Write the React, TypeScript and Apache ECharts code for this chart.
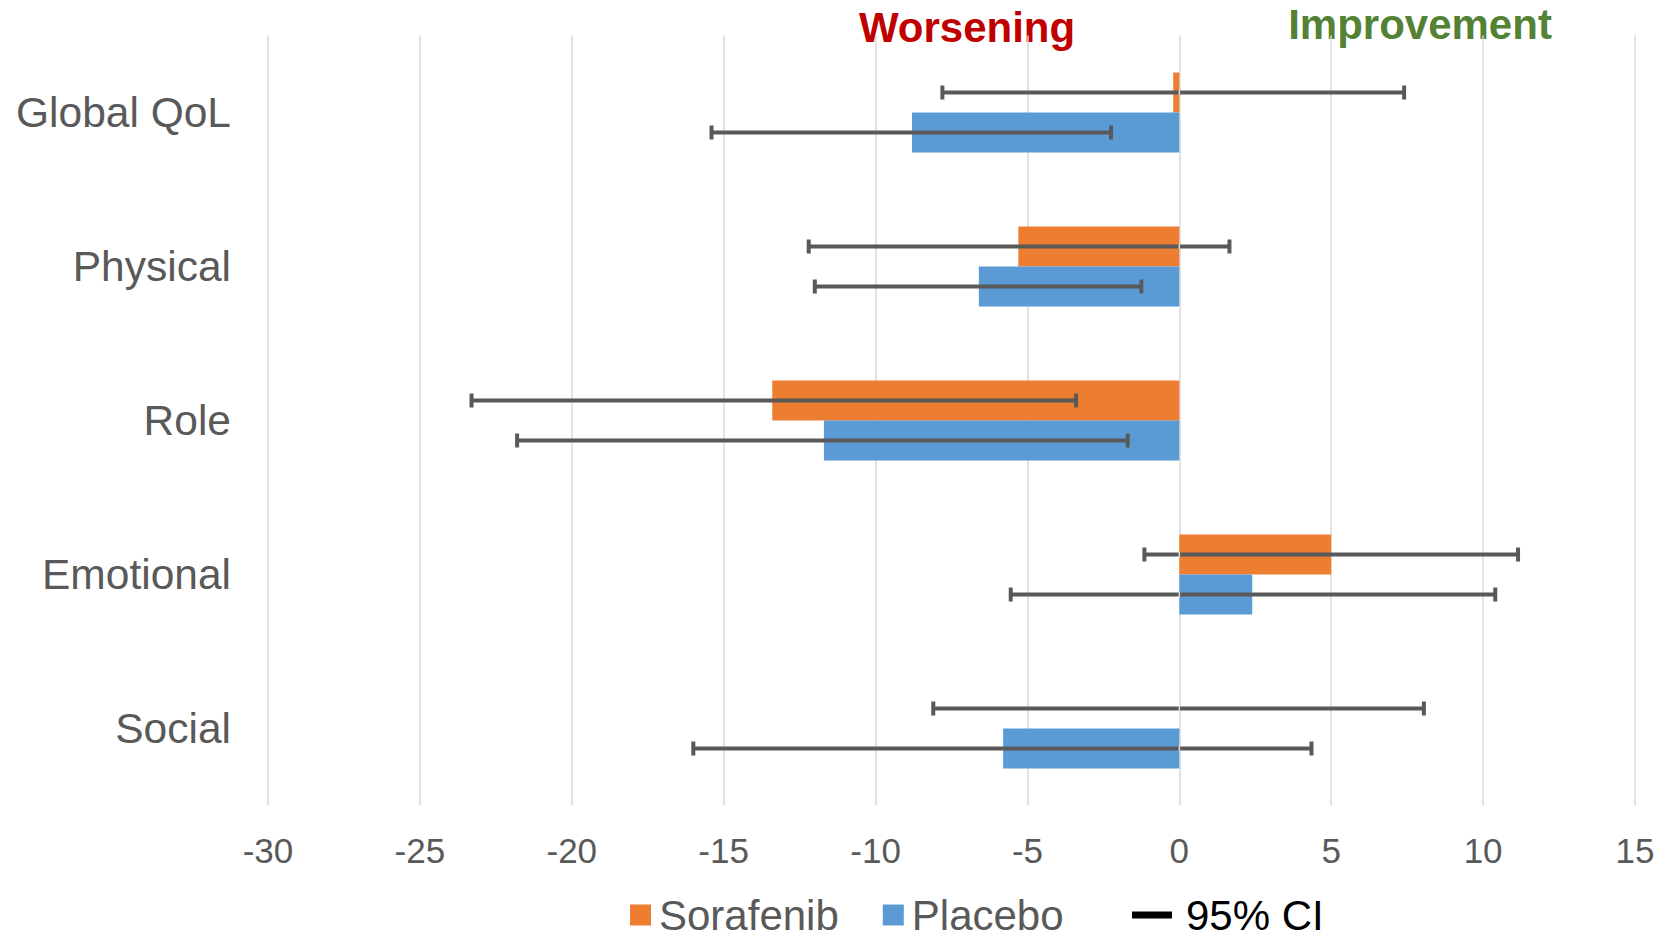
import React, { useEffect, useRef } from "react";
import * as echarts from "echarts";

const categories = ["Global QoL", "Physical", "Role", "Emotional", "Social"];
const sorafenib = [-0.2, -5.3, -13.4, 5.0, 0];
const placebo = [-8.8, -6.6, -11.7, 2.4, -5.8];
const sorafenibLow = [-7.8, -12.2, -23.3, -1.15, -8.1];
const sorafenibHigh = [7.4, 1.65, -3.4, 11.15, 8.05];
const placeboLow = [-15.4, -12.0, -21.8, -5.55, -16.0];
const placeboHigh = [-2.25, -1.25, -1.7, 10.4, 4.35];
const xMin = -30;
const xMax = 15;
const xStep = 5;

const FONT = "'Liberation Sans', Arial, sans-serif";
const GRAY = "#595959";
const GRID = "#D9D9D9";
const BAR_W = 40;

function errorSeries(name: string, low: number[], high: number[], offset: number) {
  return {
    name,
    type: "custom",
    z: 5,
    itemStyle: { color: GRAY },
    encode: { x: [0, 1], y: 2 },
    data: categories.map((_, i) => [low[i], high[i], i]),
    renderItem: (_params: any, api: any) => {
      const cat = api.value(2);
      const lo = api.value(0);
      const hi = api.value(1);
      const a = api.coord([lo, cat]);
      const b = api.coord([hi, cat]);
      const z0 = api.coord([0, cat]);
      const y = a[1] + offset;
      const st = { stroke: GRAY, lineWidth: 4 };
      const children: any[] = [
        { type: "line", shape: { x1: a[0], y1: y, x2: b[0], y2: y }, style: st },
        { type: "line", shape: { x1: a[0], y1: y - 7, x2: a[0], y2: y + 7 }, style: st },
        { type: "line", shape: { x1: b[0], y1: y - 7, x2: b[0], y2: y + 7 }, style: st },
      ];
      if (lo < 0 && hi > 0) {
        children.push({
          type: "line",
          shape: { x1: z0[0], y1: y - 2.5, x2: z0[0], y2: y + 2.5 },
          style: { stroke: GRID, lineWidth: 1.5 },
        });
      }
      return { type: "group", children };
    },
  };
}

export default function App() {
  const ref = useRef<HTMLDivElement>(null);
  useEffect(() => {
    if (!ref.current) return;
    const chart = echarts.init(ref.current, undefined, { renderer: "svg" });
    chart.setOption({
      animation: false,
      textStyle: { fontFamily: FONT },
      grid: { left: 268, right: 30, top: 35.5, height: 770 },
      xAxis: {
        type: "value",
        min: xMin,
        max: xMax,
        interval: xStep,
        axisLine: { show: false },
        axisTick: { show: false },
        splitLine: { show: true, lineStyle: { color: GRID, width: 1.5 } },
        axisLabel: { color: GRAY, fontSize: 35, lineHeight: 35, margin: 27, fontFamily: FONT },
      },
      yAxis: {
        type: "category",
        data: categories,
        inverse: true,
        axisLine: { show: false },
        axisTick: { show: false },
        splitLine: { show: false },
        axisLabel: { color: GRAY, fontSize: 42.5, margin: 37, fontFamily: FONT },
      },
      legend: [
        {
          data: ["Sorafenib", "Placebo"],
          left: 630,
          top: 894,
          padding: 0,
          icon: "rect",
          itemWidth: 21,
          itemHeight: 21,
          itemGap: 44,
          textStyle: { color: GRAY, fontSize: 42, lineHeight: 40, fontFamily: FONT, padding: [0, 0, 0, 3] },
        },
        {
          data: [{ name: "95% CI", itemStyle: { color: "#000" } }],
          left: 1132,
          top: 894,
          padding: 0,
          icon: "rect",
          itemWidth: 40,
          itemHeight: 7,
          textStyle: { color: "#000", fontSize: 42, lineHeight: 40, fontFamily: FONT, padding: [0, 0, 0, 9] },
        },
      ],
      graphic: [
        {
          type: "text",
          x: 967,
          y: 27,
          style: {
            text: "Worsening",
            fill: "#C00000",
            font: `bold 42px ${FONT}`,
            textAlign: "center",
            textVerticalAlign: "middle",
          },
        },
        {
          type: "text",
          x: 1420,
          y: 24,
          style: {
            text: "Improvement",
            fill: "#548235",
            font: `bold 42px ${FONT}`,
            textAlign: "center",
            textVerticalAlign: "middle",
          },
        },
      ],
      series: [
        {
          name: "Sorafenib",
          type: "bar",
          data: sorafenib,
          barWidth: BAR_W,
          barGap: "0%",
          itemStyle: { color: "#ED7D31" },
        },
        {
          name: "Placebo",
          type: "bar",
          data: placebo,
          barWidth: BAR_W,
          barGap: "0%",
          itemStyle: { color: "#5B9BD5" },
        },
        errorSeries("95% CI", sorafenibLow, sorafenibHigh, -BAR_W / 2),
        errorSeries("95% CI", placeboLow, placeboHigh, BAR_W / 2),
      ],
    });
    return () => chart.dispose();
  }, []);
  return (
    <div
      ref={ref}
      style={{ position: "absolute", left: 0, top: 0, width: 1665, height: 937, background: "#fff" }}
    />
  );
}
